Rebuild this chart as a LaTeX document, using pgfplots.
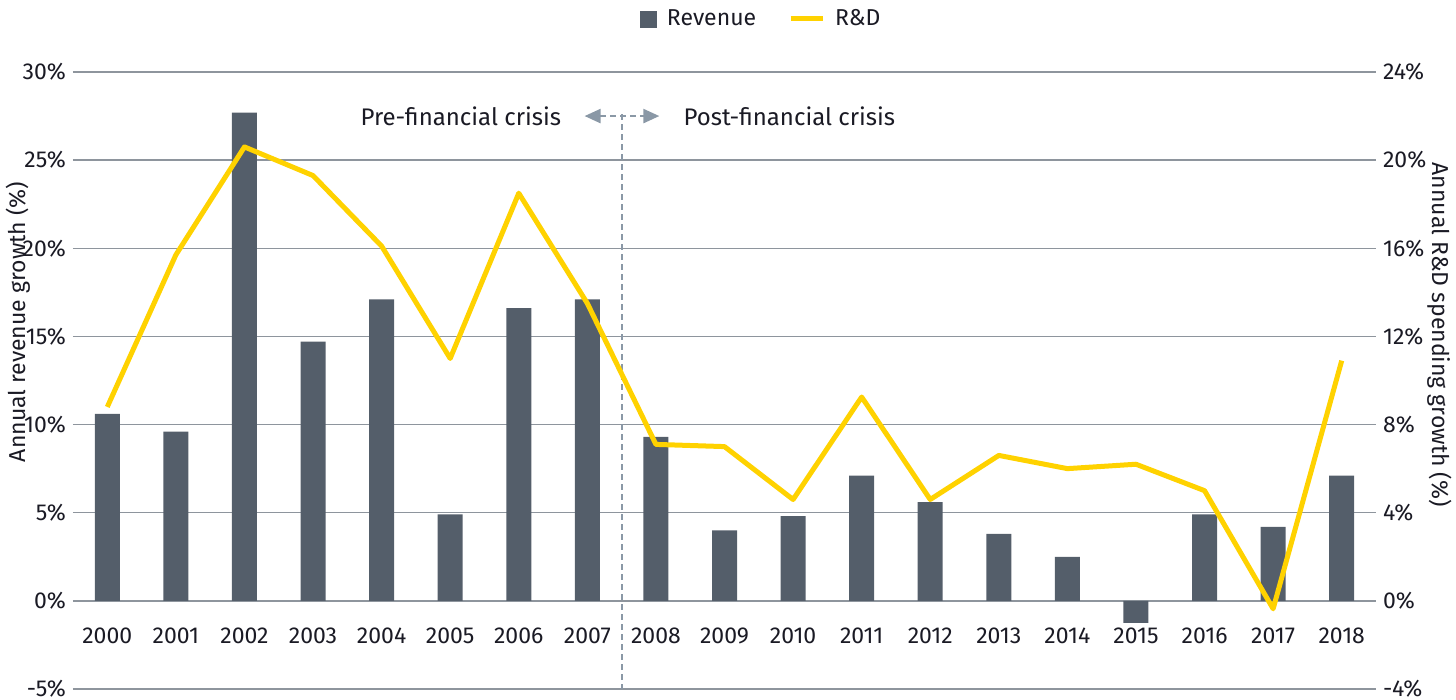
\documentclass[border=0pt]{standalone}
\usepackage{pgfplots}
\pgfplotsset{compat=1.18}
\usepackage{fontspec}
\setmainfont{Fira Sans}
\usetikzlibrary{arrows.meta}
\definecolor{barcol}{HTML}{545E6A}
\definecolor{rdcol}{HTML}{FFD200}
\definecolor{gridcol}{HTML}{8E959D}
\definecolor{txt}{HTML}{1A1A24}
\definecolor{arrcol}{HTML}{8A98A6}

\pgfplotsset{
  base/.style={scale only axis, width=651.5pt, height=308.5pt,
    xmin=-0.5, xmax=18.5, axis line style={draw=none}, major tick length=0pt,
    tick label style={font=\fontsize{11.5}{13}\selectfont, text=txt},
    label style={font=\fontsize{11.5}{13}\selectfont, text=txt}},
}

\begin{document}
\begin{tikzpicture}
\useasboundingbox (-36.5pt,-5.5pt) rectangle (691.5pt,344.5pt);
\begin{axis}[base, at={(0,0)}, anchor=south west,
  ymin=-5, ymax=30, ytick={-5,0,5,10,15,20,25,30},
  yticklabels={-5\%,0\%,5\%,10\%,15\%,20\%,25\%,30\%},
  ymajorgrids, grid style={gridcol, line width=0.75pt},
  xtick={0,...,18},
  xticklabels={2000,2001,2002,2003,2004,2005,2006,2007,2008,2009,2010,2011,2012,2013,2014,2015,2016,2017,2018},
  xticklabel style={yshift=34pt},
  ylabel={Annual revenue growth (\%)},
  ylabel style={at={(axis description cs:-0.0422,0.595)}, anchor=center},
  legend style={at={(axis description cs:0.529,1)}, anchor=center, yshift=26.5pt,
    draw=none, fill=none, font=\fontsize{11.5}{13}\selectfont, text=txt,
    legend columns=2,
    /tikz/every odd column/.append style={column sep=3pt},
    /tikz/every even column/.append style={column sep=14pt}},
  legend cell align=left]
\addplot[ybar, bar width=12.5pt, fill=barcol, draw=none, forget plot] coordinates {
  (0,10.6) (1,9.6) (2,27.7) (3,14.7) (4,17.1) (5,4.9) (6,16.6) (7,17.1)
  (8,9.3) (9,4.0) (10,4.8) (11,7.1) (12,5.6) (13,3.8) (14,2.5) (15,-1.25)
  (16,4.9) (17,4.2) (18,7.1)};
\addlegendimage{legend image code/.code={\fill[barcol] (0pt,-4pt) rectangle (8pt,4pt);}}
\addlegendentry{Revenue}
\addlegendimage{legend image code/.code={\draw[rdcol, line width=2.5pt] (0pt,0pt) -- (16pt,0pt);}}
\addlegendentry{R\&D}
\draw[arrcol, line width=1pt, dash pattern=on 3pt off 2pt] (axis cs:7.5,27.6) -- (axis cs:7.5,-5);
\draw[arrcol, line width=1.2pt, dash pattern=on 3pt off 2pt,
  {Triangle[width=7pt,length=8pt]}-{Triangle[width=7pt,length=8pt]}]
  (axis cs:6.96,27.5) -- (axis cs:8.05,27.5);
\node[anchor=east, font=\fontsize{12}{14}\selectfont, text=txt] at (axis cs:6.72,27.5) {Pre-financial crisis};
\node[anchor=west, font=\fontsize{12}{14}\selectfont, text=txt] at (axis cs:8.3,27.5) {Post-financial crisis};
\end{axis}
\begin{axis}[base, at={(0,0)}, anchor=south west,
  axis y line*=right, axis x line=none,
  ymin=-4, ymax=24, ytick={-4,0,4,8,12,16,20,24},
  yticklabels={-4\%,0\%,4\%,8\%,12\%,16\%,20\%,24\%},
  ylabel={Annual R\&D spending growth (\%)},
  ylabel style={at={(axis description cs:1.049,0.574)}, anchor=center, rotate=180}]
\addplot[rdcol, line width=2.5pt, line join=round] coordinates {
  (0,8.8) (1,15.7) (2,20.6) (3,19.3) (4,16.1) (5,11.0) (6,18.5) (7,13.5)
  (8,7.1) (9,7.0) (10,4.6) (11,9.25) (12,4.6) (13,6.6) (14,6.0) (15,6.2)
  (16,5.0) (17,-0.36) (18,10.9)};
\end{axis}
\end{tikzpicture}
\end{document}
